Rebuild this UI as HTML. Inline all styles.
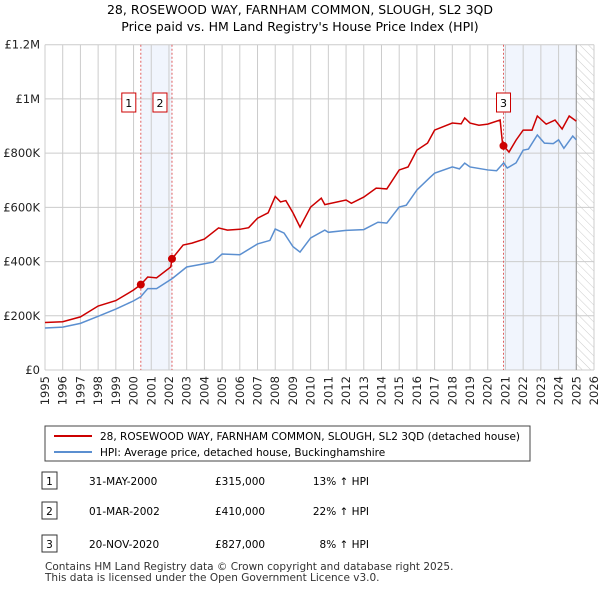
<!DOCTYPE html>
<html><head><meta charset="utf-8"><style>
body{margin:0;background:#fff;font-family:"Liberation Sans","DejaVu Sans",sans-serif;}
svg text{font-family:"DejaVu Sans","Liberation Sans",sans-serif;}
</style></head><body>
<svg id="c" width="600" height="590" viewBox="0 0 600 590" xmlns="http://www.w3.org/2000/svg">
<defs><pattern id="hatch" width="6" height="6" patternUnits="userSpaceOnUse" patternTransform="rotate(-45)"><line x1="0" y1="0" x2="0" y2="6" stroke="#ccc" stroke-width="1"/></pattern></defs>
<text x="300" y="14" text-anchor="middle" font-size="12.5" fill="#000">28, ROSEWOOD WAY, FARNHAM COMMON, SLOUGH, SL2 3QD</text>
<text x="300" y="31" text-anchor="middle" font-size="12.5" fill="#000">Price paid vs. HM Land Registry's House Price Index (HPI)</text>
<g id="plot"></g>
<g>
<rect x="45" y="426" width="485" height="35" fill="#fff" stroke="#444" stroke-width="1"/>
<line x1="54" y1="436" x2="92" y2="436" stroke="#cc0000" stroke-width="2"/>
<text x="100" y="440" font-size="10.5">28, ROSEWOOD WAY, FARNHAM COMMON, SLOUGH, SL2 3QD (detached house)</text>
<line x1="54" y1="452" x2="92" y2="452" stroke="#5b8fd0" stroke-width="2"/>
<text x="100" y="456" font-size="10.5">HPI: Average price, detached house, Buckinghamshire</text>
</g>
<g id="table" font-size="10.5"></g>
<text x="45" y="570" font-size="10.5" fill="#333">Contains HM Land Registry data © Crown copyright and database right 2025.</text>
<text x="45" y="581" font-size="10.5" fill="#333">This data is licensed under the Open Government Licence v3.0.</text>
</svg>
<script>
const hpiYears=[1995,1996,1997,1998,1999,2000,2000.4,2000.8,2001.3,2002.2,2003,2004,2004.5,2005,2006,2007,2007.7,2008,2008.5,2009,2009.4,2010,2010.8,2011,2012,2013,2013.8,2014.3,2015,2015.4,2016,2016.7,2017,2018,2018.4,2018.7,2019,2020,2020.5,2020.9,2021.1,2021.6,2022,2022.3,2022.8,2023.2,2023.7,2024,2024.3,2024.8,2025];
const hpiValues=[155,158,172,198,225,255,270,300,300,338,380,392,398,428,425,465,478,520,505,455,435,487,516,508,515,518,545,542,601,608,664,708,726,749,742,763,749,738,735,764,745,764,811,815,867,837,835,849,818,863,849];
const redYears=[1995,1996,1997,1998,1999,2000,2000.41,2000.8,2001.3,2002.1,2002.17,2002.8,2003.3,2004,2004.8,2005.3,2006,2006.5,2007,2007.6,2008,2008.3,2008.6,2009,2009.4,2010,2010.6,2010.8,2012,2012.3,2013,2013.7,2014.3,2015,2015.5,2016,2016.6,2017,2018,2018.5,2018.7,2019,2019.5,2020,2020.7,2020.85,2020.89,2021.2,2021.6,2022,2022.5,2022.8,2023.3,2023.8,2024.2,2024.6,2025];
const redValues=[175,178,196,236,256,295,315,343,340,380,410,461,468,483,524,516,519,525,560,580,640,620,625,580,527,601,634,610,627,615,638,671,668,738,749,811,837,885,911,908,930,911,903,907,922,825,827,804,848,885,885,937,907,922,889,937,918];
const sales=[{n:"1",t:2000.41,v:315,date:"31-MAY-2000",price:"£315,000",pct:"13% ↑ HPI"},{n:"2",t:2002.17,v:410,date:"01-MAR-2002",price:"£410,000",pct:"22% ↑ HPI"},{n:"3",t:2020.89,v:827,date:"20-NOV-2020",price:"£827,000",pct:"8% ↑ HPI"}];
const yTicks=[0,200,400,600,800,1000,1200];
const yTickLabels=["£0","£200K","£400K","£600K","£800K","£1M","£1.2M"];
const x0=45,x1=594,yr0=1995,yr1=2026,yb=370,yt=44.7;
const X=t=>x0+(t-yr0)/(yr1-yr0)*(x1-x0);
const Y=v=>yb-v/1200*(yb-yt);
const NS="http://www.w3.org/2000/svg";
const g=document.getElementById('plot');
function mk(tag,attrs,parent){const e=document.createElementNS(NS,tag);for(const k in attrs)e.setAttribute(k,attrs[k]);(parent||g).appendChild(e);return e;}
let e;
e=mk('rect',{x:X(2000.41),y:yt,width:X(2002.17)-X(2000.41),height:yb-yt,fill:'#eef3fc',opacity:0.8});


e=mk('rect',{x:X(2020.89),y:yt,width:X(2025.0)-X(2020.89),height:yb-yt,fill:'#eef3fc',opacity:0.8});


e=mk('rect',{x:X(2025.0),y:yt,width:X(2026)-X(2025.0),height:yb-yt,fill:'url(#hatch)'});


for(let yr=yr0;yr<=yr1;yr++){
 e=mk('line',{x1:X(yr),x2:X(yr),y1:yt,y2:yb,stroke:'#ccc','stroke-width':1});
 
 
 e=mk('text',{x:0,y:0,transform:`translate(${X(yr)+4},${yb+6}) rotate(-90)`,'text-anchor':'end','font-size':11.5,fill:'#222'});
 e.textContent=yr;
 
 
}
yTicks.forEach((v,i)=>{
 e=mk('line',{x1:x0,x2:x1,y1:Y(v),y2:Y(v),stroke:'#ccc','stroke-width':1});
 
 
 e=mk('text',{x:40,y:Y(v)+4,'text-anchor':'end','font-size':11.5,fill:'#222'});
 e.textContent=yTickLabels[i];
 
 
});
e=mk('line',{x1:X(2025.0),x2:X(2025.0),y1:yt,y2:yb,stroke:'#999','stroke-width':1});


sales.forEach(s=>{
 e=mk('line',{x1:X(s.t),x2:X(s.t),y1:yt,y2:yb,stroke:'#e06060','stroke-width':1,'stroke-dasharray':'2,2'});
 
 
});
e=mk('polyline',{points:hpiYears.map((t,i)=>X(t)+','+Y(hpiValues[i])).join(' '),fill:'none',stroke:'#5b8fd0','stroke-width':1.5});


e=mk('polyline',{points:redYears.map((t,i)=>X(t)+','+Y(redValues[i])).join(' '),fill:'none',stroke:'#cc0000','stroke-width':1.5});


sales.forEach(s=>{
 e=mk('circle',{cx:X(s.t),cy:Y(s.v),r:4,fill:'#cc0000'});
 
 
 const bx=X(s.t)-(s.n==="3"?7:s.n==="1"?-2:-2)-12;
 e=mk('rect',{x:X(s.t)-19+(s.n==="3"?12:0),y:93,width:14,height:19,fill:'#fff',stroke:'#cc0000','stroke-width':1});
 
 
 e=mk('text',{x:X(s.t)-12+(s.n==="3"?12:0),y:107,'text-anchor':'middle','font-size':11});
 e.textContent=s.n;
 
 
});
const tb=document.getElementById('table');
const rowsY=[483,513,546];
sales.forEach((s,i)=>{
 const y=rowsY[i];
 e=mk('rect',{x:42,y:y-11,width:15,height:17,fill:'#fff',stroke:'#333'},tb);
 
 
 e=mk('text',{x:49.5,y:y+2,'text-anchor':'middle'},tb);e.textContent=s.n;
 
 
 e=mk('text',{x:89,y:y+2},tb);e.textContent=s.date;
 
 
 e=mk('text',{x:215,y:y+2},tb);e.textContent=s.price;
 
 
 e=mk('text',{x:369,y:y+2,'text-anchor':'end'},tb);e.textContent=s.pct;
 
 
});
</script>
</body></html>
